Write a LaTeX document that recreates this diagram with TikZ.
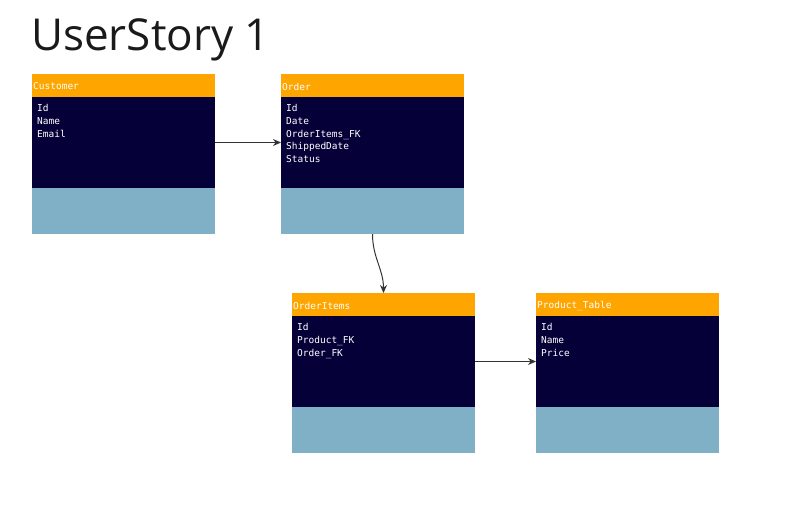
\documentclass[tikz,border=0pt]{standalone}
\usepackage{fontspec}
\setmainfont{Open Sans}
\newfontfamily\monof{DejaVu Sans Mono}
\usetikzlibrary{arrows.meta}
\definecolor{hdr}{HTML}{FFA500}
\definecolor{bdy}{HTML}{050038}
\definecolor{ftr}{HTML}{7FB0C6}
\definecolor{ttl}{HTML}{1A1A1A}
\definecolor{lnk}{HTML}{333333}
\tikzset{
  tblpart/.style={anchor=north west, inner sep=0pt, outer sep=0pt, minimum width=183pt},
  hdrbox/.style={tblpart, fill=hdr, minimum height=23pt},
  bdybox/.style={tblpart, fill=bdy, minimum height=91pt},
  ftrbox/.style={tblpart, fill=ftr, minimum height=46pt},
  hdrtxt/.style={anchor=west, inner sep=0pt, text=white, font=\monof\fontsize{9.5}{11}\selectfont},
  fldtxt/.style={anchor=base west, inner sep=0pt, text=white, font=\monof\fontsize{9.5}{11}\selectfont},
  conn/.style={draw=lnk, line width=1pt, -{Stealth[length=8pt,width=7pt]}},
}
\newcommand\erdtable[5]{%
  \node[hdrbox] (#1-h) at (#2,#3) {};
  \node[bdybox] (#1-b) at (#2,#3+23) {};
  \node[ftrbox] (#1-f) at (#2,#3+114) {};
  \node[hdrtxt] (#1-t) at (#2+1,#3+12.5) {#4};
  \foreach \fld [count=\i] in {#5} {%
    \node[fldtxt] (#1-r\i) at (#2+5,#3+37.5+12.75*\i-12.75) {\fld};
  }%
}
\begin{document}
\begin{tikzpicture}[x=1pt,y=-1pt]
  \useasboundingbox (0,0) rectangle (794,523);
  \node[anchor=base west, inner sep=0pt, text=ttl, font=\fontsize{44}{50}\selectfont] (title) at (31,50) {UserStory 1};
  \erdtable{cust}{32}{74}{Customer}{Id,Name,Email}
  \erdtable{ord}{281}{74}{Order}{Id,Date,OrderItems\_FK,ShippedDate,Status}
  \erdtable{oi}{292}{293}{OrderItems}{Id,Product\_FK,Order\_FK}
  \erdtable{prod}{536}{293}{Product\_Table}{Id,Name,Price}
  \draw[conn] (cust-b.east) -- (ord-b.west);
  \draw[conn] (ord-f.south) to[out=-90,in=90] (oi-h.north);
  \draw[conn] (oi-b.east) -- (prod-b.west);
\end{tikzpicture}
\end{document}
